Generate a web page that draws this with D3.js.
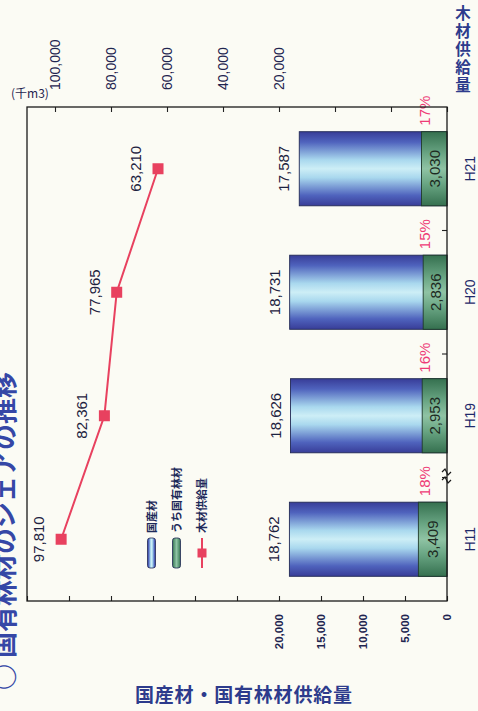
<!DOCTYPE html>
<html>
<head>
<meta charset="utf-8">
<script src="https://cdn.jsdelivr.net/npm/d3@7"></script>
<style>
  html, body { margin: 0; padding: 0; background: #fbfbf4; }
  svg { display: block; }
  text { font-family: "Liberation Sans", Arial, sans-serif; }
  .jp { font-family: "Noto Sans CJK JP", "Noto Sans", sans-serif; }
  .vertical { writing-mode: vertical-rl; text-orientation: upright; }
</style>
</head>
<body>
<script>
// Fiscal years on the category axis
const categories = ["H11", "H19", "H20", "H21"];
// 国産材 supply (千m3)
const domesticTimber = [18762, 18626, 18731, 17587];
// うち国有林材 supply (千m3)
const nationalForestTimber = [3409, 2953, 2836, 3030];
// 木材供給量 total wood supply (千m3)
const woodSupply = [97810, 82361, 77965, 63210];
// Axis ticks
const leftTicks = [0, 5000, 10000, 15000, 20000, 25000, 30000, 35000, 40000, 45000, 50000];
const leftLabelled = [0, 5000, 10000, 15000, 20000];
const rightTicks = [-40000, -20000, 0, 20000, 40000, 60000, 80000, 100000];
const rightLabelled = [20000, 40000, 60000, 80000, 100000];

const W = 478, H = 711;          // page size
const fmt = d3.format(",");

const svg = d3.select("body").append("svg")
  .attr("width", W).attr("height", H);

svg.append("rect").attr("width", W).attr("height", H).attr("fill", "#fbfbf4");

// gradients for the bars and legend keys
const defs = svg.append("defs");
function grad(id, stops, vertical) {
  const lg = defs.append("linearGradient").attr("id", id)
    .attr("x1", 0).attr("y1", 0)
    .attr("x2", vertical ? 0 : 1).attr("y2", vertical ? 1 : 0);
  stops.forEach(([o, c]) => lg.append("stop").attr("offset", o).attr("stop-color", c));
}
const blueStops = [["0%", "#383d98"], ["14%", "#4f63bd"], ["38%", "#a9d8ee"], ["50%", "#cdeef6"], ["62%", "#a9d8ee"], ["86%", "#4f63bd"], ["100%", "#383d98"]];
const greenStops = [["0%", "#35704f"], ["30%", "#6aa684"], ["50%", "#8fc3a4"], ["70%", "#6aa684"], ["100%", "#35704f"]];
grad("barBlue", blueStops, false);
grad("barGreen", greenStops, false);
grad("keyBlue", blueStops, true);
grad("keyGreen", greenStops, true);

// The chart is laid out in its own frame (711 wide x 478 tall) and turned a quarter turn.
const g = svg.append("g").attr("transform", `translate(0,${H}) rotate(-90)`);

const plot = { left: 110, right: 604, top: 27, bottom: 447 };

const x = d3.scaleBand().domain(categories)
  .range([plot.left, plot.right]).paddingInner(0.4).paddingOuter(0.2);
const yL = d3.scaleLinear().domain([0, 50000]).range([plot.bottom, plot.top]);
const yR = d3.scaleLinear().domain([-40000, 110000]).range([plot.bottom, plot.top]);

// left axis: 国産材・国有林材供給量
const leftAxis = g.append("g").attr("transform", `translate(${plot.left},0)`)
  .call(d3.axisLeft(yL).tickValues(leftTicks).tickSizeInner(-5).tickSizeOuter(0).tickPadding(13)
    .tickFormat(d => leftLabelled.includes(d) ? fmt(d) : ""));
leftAxis.select(".domain").remove();
leftAxis.selectAll("line").attr("stroke", "#222").attr("stroke-width", 1.1);
leftAxis.selectAll("text").attr("font-size", 11.5).attr("fill", "#1f2550").attr("font-weight", "bold");

// right axis: 木材供給量
const rightAxis = g.append("g").attr("transform", `translate(${plot.right},0)`)
  .call(d3.axisRight(yR).tickValues(rightTicks).tickSizeInner(-5).tickSizeOuter(0).tickPadding(17)
    .tickFormat(d => rightLabelled.includes(d) ? fmt(d) : ""));
rightAxis.select(".domain").remove();
rightAxis.selectAll("line").attr("stroke", "#222").attr("stroke-width", 1.1);
rightAxis.selectAll("text").attr("font-size", 14).attr("fill", "#1f2550");

// category axis labels
const catAxis = g.append("g").attr("transform", `translate(0,${plot.bottom})`)
  .call(d3.axisBottom(x).tickSize(0).tickPadding(18));
catAxis.select(".domain").remove();
catAxis.selectAll("text").attr("font-size", 14).attr("fill", "#1f2a6a");

// category separators
const step = x.step();
g.append("g").selectAll("line")
  .data(d3.range(1, categories.length))
  .join("line")
  .attr("x1", i => plot.left + i * step).attr("x2", i => plot.left + i * step)
  .attr("y1", plot.bottom).attr("y2", plot.bottom - 5)
  .attr("stroke", "#222").attr("stroke-width", 1.1);

// bars: 国産材 total with the 国有林材 share at its base
const bars = g.append("g");
bars.selectAll("rect.dom").data(categories).join("rect")
  .attr("class", "dom")
  .attr("x", d => x(d)).attr("width", x.bandwidth())
  .attr("y", (d, i) => yL(domesticTimber[i]))
  .attr("height", (d, i) => yL(0) - yL(domesticTimber[i]))
  .attr("fill", "url(#barBlue)").attr("stroke", "#222a55").attr("stroke-width", 0.9);
bars.selectAll("rect.nat").data(categories).join("rect")
  .attr("class", "nat")
  .attr("x", d => x(d)).attr("width", x.bandwidth())
  .attr("y", (d, i) => yL(nationalForestTimber[i]))
  .attr("height", (d, i) => yL(0) - yL(nationalForestTimber[i]))
  .attr("fill", "url(#barGreen)").attr("stroke", "#1f3a2a").attr("stroke-width", 0.9);

// bar value labels
g.append("g").selectAll("text").data(categories).join("text")
  .attr("x", d => x(d) + x.bandwidth() / 2)
  .attr("y", (d, i) => yL(domesticTimber[i]) - 10)
  .attr("text-anchor", "middle").attr("font-size", 15).attr("fill", "#1d2240")
  .text((d, i) => fmt(domesticTimber[i]));
g.append("g").selectAll("text").data(categories).join("text")
  .attr("x", d => x(d) + x.bandwidth() / 2)
  .attr("y", (d, i) => (yL(nationalForestTimber[i]) + yL(0)) / 2 + 5.5)
  .attr("text-anchor", "middle").attr("font-size", 15).attr("fill", "#1d2a22")
  .text((d, i) => fmt(nationalForestTimber[i]));

// share of 国有林材 within 国産材
g.append("g").selectAll("text").data(categories).join("text")
  .attr("x", d => x(d) + x.bandwidth() + 6)
  .attr("y", 430)
  .attr("font-size", 15).attr("fill", "#ee3a76")
  .text((d, i) => Math.round(nationalForestTimber[i] / domesticTimber[i] * 100) + "%");

// 木材供給量 line
const cx = d => x(d) + x.bandwidth() / 2;
const line = d3.line().x((v, i) => cx(categories[i])).y(v => yR(v));
g.append("path").datum(woodSupply)
  .attr("d", line).attr("fill", "none").attr("stroke", "#e8415f").attr("stroke-width", 2);
g.append("g").selectAll("rect").data(woodSupply).join("rect")
  .attr("x", (v, i) => cx(categories[i]) - 5.5).attr("y", v => yR(v) - 5.5)
  .attr("width", 11).attr("height", 11).attr("fill", "#e8415f");
g.append("g").selectAll("text").data(woodSupply).join("text")
  .attr("x", (v, i) => cx(categories[i]))
  .attr("y", v => yR(v) - 17)
  .attr("text-anchor", "middle").attr("font-size", 15).attr("fill", "#1d2240")
  .text(v => fmt(v));

// plot frame
g.append("rect")
  .attr("x", plot.left).attr("y", plot.top)
  .attr("width", plot.right - plot.left).attr("height", plot.bottom - plot.top)
  .attr("fill", "none").attr("stroke", "#1a1a1a").attr("stroke-width", 1.3);

// break marks on the category axis between H11 and H19
const brk = g.append("g").attr("fill", "none").attr("stroke", "#1a1a1a").attr("stroke-width", 1.2);
[231, 239].forEach(bx => {
  brk.append("path").attr("d", `M${bx},${plot.bottom - 5} L${bx + 3},${plot.bottom - 2} L${bx - 3},${plot.bottom + 1} L${bx},${plot.bottom + 4}`);
});

// legend
const legend = g.append("g");
const rows = [
  { label: "国産材", key: "keyBlue", oy: 151.5 },
  { label: "うち国有林材", key: "keyGreen", oy: 176.5 },
  { label: "木材供給量", key: null, oy: 202 }
];
rows.forEach(r => {
  if (r.key) {
    legend.append("rect").attr("x", 143).attr("y", r.oy - 4).attr("width", 30).attr("height", 8)
      .attr("rx", 2.5).attr("fill", `url(#${r.key})`).attr("stroke", "#222a55").attr("stroke-width", 0.8);
  } else {
    legend.append("line").attr("x1", 143).attr("x2", 173).attr("y1", r.oy).attr("y2", r.oy)
      .attr("stroke", "#e8415f").attr("stroke-width", 2);
    legend.append("rect").attr("x", 153.5).attr("y", r.oy - 4.5).attr("width", 9).attr("height", 9)
      .attr("fill", "#e8415f");
  }
  legend.append("text").attr("class", "jp")
    .attr("x", 178).attr("y", r.oy + 4)
    .attr("font-size", 11).attr("font-weight", "bold").attr("fill", "#1d2a5a")
    .text(r.label);
});

// title along the top edge of the chart
g.append("text").attr("class", "jp")
  .attr("x", 21).attr("y", 14)
  .attr("font-size", 26).attr("font-weight", "bold").attr("fill", "#3547a6")
  .text("○ 国有林材のシェアの推移");

// axis titles (set upright on the page)
svg.append("text").attr("class", "jp")
  .attr("x", 135).attr("y", 702)
  .attr("font-size", 19).attr("font-weight", "bold").attr("letter-spacing", 0.8)
  .attr("fill", "#2d3b8c")
  .text("国産材・国有林材供給量");

// vertical title for the wood-supply axis
svg.append("text").attr("class", "jp vertical")
  .attr("x", 463).attr("y", 5)
  .attr("font-size", 15.5).attr("font-weight", "bold").attr("letter-spacing", 2.5)
  .attr("fill", "#2d3b8c")
  .text("木材供給量");

svg.append("text").attr("class", "jp")
  .attr("x", 11).attr("y", 98)
  .attr("font-size", 12).attr("fill", "#1f2550")
  .text("(千m3)");
</script>
</body>
</html>
